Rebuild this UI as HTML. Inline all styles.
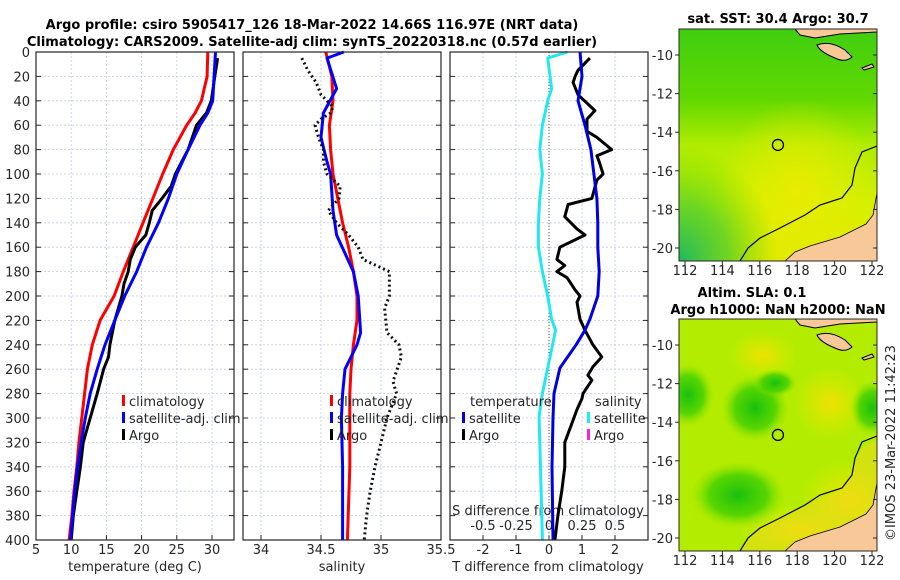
<!DOCTYPE html>
<html><head><meta charset="utf-8">
<style>
html,body{margin:0;padding:0;background:#fff;}
svg{display:block;font-family:"DejaVu Sans","Liberation Sans",sans-serif;}
</style></head>
<body>
<svg id="fig" width="900" height="580" viewBox="0 0 900 580" xmlns="http://www.w3.org/2000/svg">
<defs>
<linearGradient id="g1" x1="0" y1="0" x2="0" y2="1">
<stop offset="0" stop-color="#40ce10"/><stop offset="0.3" stop-color="#60d800"/><stop offset="0.5" stop-color="#b0ec00"/><stop offset="0.75" stop-color="#d4f000"/><stop offset="1" stop-color="#e4e800"/>
</linearGradient>
<radialGradient id="g1bl" cx="0" cy="1" r="0.5"><stop offset="0" stop-color="#20b860"/><stop offset="0.5" stop-color="#40cc30" stop-opacity="0.7"/><stop offset="1" stop-color="#60d800" stop-opacity="0"/></radialGradient>
<radialGradient id="g1ye" cx="0.6" cy="0.7" r="0.4"><stop offset="0" stop-color="#e8ec00"/><stop offset="1" stop-color="#e8ec00" stop-opacity="0"/></radialGradient>
<radialGradient id="grn" cx="0.5" cy="0.5" r="0.5"><stop offset="0" stop-color="#18c010"/><stop offset="0.6" stop-color="#40d000" stop-opacity="0.8"/><stop offset="1" stop-color="#90e400" stop-opacity="0"/></radialGradient>
<radialGradient id="yel" cx="0.5" cy="0.5" r="0.5"><stop offset="0" stop-color="#f0e000"/><stop offset="1" stop-color="#e0ec00" stop-opacity="0"/></radialGradient>
<clipPath id="c1"><rect x="679" y="29" width="198" height="232"/></clipPath>
<clipPath id="c2"><rect x="679" y="319" width="198" height="232"/></clipPath>
</defs>
<g id="layer"></g>
</svg>
<script>
// ---- data (depth in m) ----
const tDepth = [0,20,40,50,60,80,100,120,140,160,180,200,220,240,260,280,300,320,340,360,380,400];
const tClim  = [29.4,29.3,28.5,27.6,26.4,24.5,23,21.6,20.2,18.8,17.4,16.1,14.1,13,12.3,11.9,11.5,11.1,10.8,10.4,10.1,9.7];
const tSat   = [30.5,30.3,30.1,29.4,28.3,26.6,25,23.8,22.4,20.7,19.3,17.6,16.2,14.8,13.7,12.7,12,11.4,10.9,10.5,10.2,9.9];
const argoDepth = [5,20,40,50,60,80,90,100,110,120,130,140,150,160,170,180,190,200,220,240,250,260,280,300,320,340,360,380,400];
const tArgo = [30.8,30.4,29.9,29.2,27.8,26.6,25.7,24.8,24.2,22.9,21.5,21.1,20.6,19.1,18.4,18.1,17.5,17.2,16.2,15.5,15.3,14.6,13.7,12.7,11.7,11.3,10.8,10.3,10];
const sDepth = [0,20,40,60,80,100,120,140,160,180,200,220,240,260,280,300,340,400];
const sClim  = [34.54,34.59,34.6,34.57,34.58,34.6,34.64,34.68,34.73,34.77,34.8,34.8,34.77,34.75,34.74,34.74,34.74,34.72];
const sSatDepth = [0,5,30,50,70,90,100,130,150,180,200,230,240,260,280,300,340,400];
const sSat = [34.69,34.55,34.63,34.52,34.5,34.55,34.58,34.6,34.63,34.77,34.81,34.83,34.8,34.7,34.68,34.67,34.68,34.68];
const sArgoDepth = [5,15,25,35,45,50,55,60,70,80,90,100,110,120,130,140,150,160,170,175,180,200,210,230,240,250,270,280,300,320,340,360,380,400];
const sArgo = [34.34,34.39,34.46,34.5,34.6,34.58,34.5,34.45,34.48,34.52,34.52,34.55,34.66,34.65,34.56,34.63,34.73,34.81,34.85,34.96,35.07,35.07,35.03,35.05,35.15,35.17,35.1,35.13,35.05,35.0,34.95,34.91,34.88,34.86];
const dSDepth = [0,5,30,40,60,80,100,120,140,160,180,200,219,228,259,280,299,359,400];
const dSSat = [0.14,-0.01,0.02,-0.01,-0.05,-0.07,-0.05,-0.07,-0.08,-0.08,-0.05,-0.01,0.02,0.05,-0.01,-0.05,-0.075,-0.06,-0.05];
const dTSatDepth = [0,20,40,60,80,100,120,140,160,180,200,219,228,240,259,280,300,340,400];
const dTSat = [0.94,1.0,0.88,1.09,1.27,1.36,1.45,1.48,1.48,1.52,1.48,1.24,1.09,0.82,0.33,0.15,0.12,0.09,0.12];
const dTArgoDepth = [5,15,20,25,35,42,48,55,65,70,80,85,90,100,105,110,120,125,135,145,150,160,170,175,180,185,195,200,205,219,228,240,250,258,265,269,280,284,293,315,320,340,359,380,400];
const dTArgo = [1.24,0.88,0.79,0.73,0.88,1.15,1.39,1.15,1.15,1.45,1.9,1.45,1.52,1.64,1.45,1.4,1.3,0.58,0.48,0.85,1.09,0.33,0.24,0.48,0.24,0.55,0.79,0.94,0.85,0.94,1.09,1.33,1.6,1.33,1.18,1.3,1.03,1.0,0.85,0.55,0.48,0.48,0.39,0.27,0.18];
const depthTicks = [0,20,40,60,80,100,120,140,160,180,200,220,240,260,280,300,320,340,360,380,400];
const tTicks = [5,10,15,20,25,30];
const sTicks = [34,34.5,35,35.5];
const dTTicks = [-2,-1,0,1,2];
const dSTicks = [-0.5,-0.25,0,0.25,0.5];
const dSTickLabels = ['-0.5','-0.25','0','0.25','0.5'];
const latTicks = [-10,-12,-14,-16,-18,-20];
const lonTicks = [112,114,116,118,120,122];

// ---- scales ----
const Y0=52, Y1=540;
const yD = d => Y0 + d*(Y1-Y0)/400;
const xT = v => 36 + (v-5)*7.04;
const xS = v => 261 + (v-34)*120;
const xDT = v => 549 + v*33;
const xDS = v => 549 + v*132;
const mapX = lon => 685 + (lon-112)*18.7;
const mapY = (lat,off) => off + 55 + (-10-lat)*19.3;

const NS="http://www.w3.org/2000/svg";
const L=document.getElementById('layer');
function el(tag, attrs, parent){const e=document.createElementNS(NS,tag);for(const k in attrs)e.setAttribute(k,attrs[k]);(parent||L).appendChild(e);return e;}
function txt(x,y,s,size,anchor,weight,fill){const t=el('text',{x:x,y:y,'font-size':size,'text-anchor':anchor||'start','font-weight':weight||'normal',fill:fill||'#262626'});t.textContent=s;return t;}

// ---- panels ----
const panels=[[36,234],[243,441],[450,648]];
panels.forEach((p,i)=>{
  const g=el('g',{});
  
  
  depthTicks.forEach(d=>{
    const l=el('line',{x1:p[0],x2:p[1],y1:yD(d),y2:yD(d),stroke:'#c4c8ea','stroke-width':0.8,'stroke-dasharray':'2,2'},g);
    
    
    el('line',{x1:p[0],x2:p[0]+5,y1:yD(d),y2:yD(d),stroke:'#262626'},g);
    el('line',{x1:p[1],x2:p[1]-5,y1:yD(d),y2:yD(d),stroke:'#262626'},g);
  });
});
function vgrid(vals,fx){vals.forEach(v=>{const l=el('line',{x1:fx(v),x2:fx(v),y1:Y0,y2:Y1,stroke:'#c4c8ea','stroke-width':0.8,'stroke-dasharray':'2,2'});
  
  
  el('line',{x1:fx(v),x2:fx(v),y1:Y1,y2:Y1-5,stroke:'#262626'});});}
vgrid(tTicks,xT); vgrid(sTicks.filter(v=>v<35.5),xS); vgrid(dTTicks,xDT);
el('line',{x1:xDT(0),x2:xDT(0),y1:yD(0),y2:Y1,stroke:'#555','stroke-width':1,'stroke-dasharray':'1,2'});

depthTicks.forEach(d=>{const t=txt(30,yD(d)+5,String(d),13,'end');
  
  });
tTicks.forEach(v=>{const t=txt(xT(v),554,String(v),13,'middle');
  
  });
sTicks.forEach(v=>{const t=txt(xS(v),554,String(v),13,'middle');
  
  });
dTTicks.forEach(v=>{const t=txt(xDT(v),554,String(v),13,'middle');
  
  });
dSTicks.forEach((v,i)=>{const t=txt(xDS(v),530,dSTickLabels[i],13,'middle');
  
  });
let t;
t=txt(135,571,'temperature (deg C)',13,'middle');  
t=txt(342,571,'salinity',13,'middle');  
t=txt(548,571,'T difference from climatology',13,'middle');  
t=txt(548,515,'S difference from climatology',13,'middle');  

function series(depths, vals, fx, color, w, dash, name){
  const pts=depths.map((d,i)=>fx(vals[i]).toFixed(1)+','+yD(d).toFixed(1)).join(' ');
  const a={points:pts,fill:'none',stroke:color,'stroke-width':w,'stroke-linejoin':'round'};
  if(dash)a['stroke-dasharray']=dash;
  const p=el('polyline',a);
  
  
}
series(tDepth,tClim,xT,'#ff0000',3,null,'temperature-climatology-line');
series(argoDepth,tArgo,xT,'#000',3,null,'temperature-argo-line');
series(tDepth,tSat,xT,'#0000ff',3,null,'temperature-satellite-line');
series(sDepth,sClim,xS,'#ff0000',3,null,'salinity-climatology-line');
series(sSatDepth,sSat,xS,'#0000ff',3,null,'salinity-satellite-line');
series(sArgoDepth,sArgo,xS,'#111',3,'2,3','salinity-argo-line');
series(dSDepth,dSSat,xDS,'#22e8f0',3,null,'s-diff-satellite-line');
series(dTArgoDepth,dTArgo,xDT,'#000',3,null,'t-diff-argo-line');
series(dTSatDepth,dTSat,xDT,'#0000e0',3,null,'t-diff-satellite-line');

panels.forEach(p=>{el('rect',{x:p[0],y:Y0,width:p[1]-p[0],height:Y1-Y0,fill:'none',stroke:'#262626','stroke-width':1.2});});

function legEntry(x,y,color,label,name){
  const g=el('g',{});
  
  
  el('rect',{x:x,y:y-11,width:3,height:11,fill:color},g);
  const tt=el('text',{x:x+7,y:y,'font-size':13,fill:'#262626'},g); tt.textContent=label;
}
legEntry(122,406,'#ff0000','climatology','legend-entry-climatology');
legEntry(122,423,'#0000ff','satellite-adj. clim','legend-entry-satellite-adj');
legEntry(122,440,'#000','Argo','legend-entry-argo');
legEntry(330,406,'#ff0000','climatology','legend-entry-climatology-salinity');
legEntry(330,423,'#0000ff','satellite-adj. clim','legend-entry-satellite-adj-salinity');
legEntry(330,440,'#000','Argo','legend-entry-argo-salinity');
t=txt(470,406,'temperature',13);  
t=txt(595,406,'salinity',13);  
legEntry(462,423,'#0000e0','satellite','legend-entry-t-satellite');
legEntry(462,440,'#000','Argo','legend-entry-t-argo');
legEntry(587,423,'#22e8f0','satellite','legend-entry-s-satellite');
legEntry(587,440,'#ff22cc','Argo','legend-entry-s-argo');

t=txt(312,29,'Argo profile: csiro 5905417_126 18-Mar-2022 14.66S 116.97E (NRT data)',13,'middle','bold','#000');  
t=txt(312,46,'Climatology: CARS2009. Satellite-adj clim: synTS_20220318.nc (0.57d earlier)',13,'middle','bold','#000');  

function map(off, kind){
  const g=el('g',{'clip-path':'url(#c'+kind+')'});
  
  
  const o=off;
  if(kind===1){
    el('rect',{x:679,y:29+o,width:198,height:232,fill:'url(#g1)'},g);
    el('rect',{x:679,y:29+o,width:198,height:232,fill:'url(#g1ye)'},g);
    el('rect',{x:679,y:29+o,width:198,height:232,fill:'url(#g1bl)'},g);
  } else {
    el('rect',{x:679,y:29+o,width:198,height:232,fill:'#b4ec00'},g);
    [[763,65,34,24,'yel'],[830,113,36,36,'yel'],[850,210,50,40,'yel'],[800,240,60,25,'yel'],
     [755,118,34,34,'grn'],[688,105,26,32,'grn'],[872,118,22,28,'grn'],[738,205,48,34,'grn'],[775,93,22,14,'grn']].forEach(b=>{
      el('ellipse',{cx:b[0],cy:b[1]+o,rx:b[2],ry:b[3],fill:'url(#'+b[4]+')'},g);
    });
    el('path',{d:`M877 150 L862 158 L850 185 L842 200 L805 215 L760 238 L738 261 L877 261 Z`,transform:`translate(0 ${o})`,fill:'#f0d820',opacity:0.5},g);
  }
  el('path',{d:`M877 ${193+o} L873 ${215+o} L866 ${224+o} L840 ${237+o} L810 ${246+o} L795 ${252+o} L785 ${261+o} L877 ${261+o} Z`,fill:'#f8c898'},g);
  el('path',{d:`M${795} ${29+o} L877 ${29+o} L877 ${32+o} L840 ${34+o} L815 ${38+o} L800 ${35+o} Z`,fill:'#f8c898',stroke:'#000','stroke-width':1},g);
  el('path',{d:`M817 ${45+o} Q830 ${40+o} 845 ${50+o} L852 ${57+o} Q845 ${63+o} 835 ${58+o} Q820 ${52+o} 817 ${45+o} Z`,fill:'#f8c898',stroke:'#000','stroke-width':1},g);
  el('path',{d:`M862 ${68+o} L872 ${64+o} L874 ${67+o} L864 ${70+o} Z`,fill:'#f8c898',stroke:'#000','stroke-width':1},g);
  el('path',{d:`M877 ${146+o} L862 ${152+o} L855 ${168+o} L852 ${185+o} L842 ${198+o} L820 ${205+o} L805 ${215+o} L780 ${228+o} L760 ${238+o} L748 ${248+o} L740 ${261+o}`,fill:'none',stroke:'#000','stroke-width':1.2},g);
  el('path',{d:`M877 ${193+o} L873 ${215+o} L866 ${224+o} L840 ${237+o} L810 ${246+o} L795 ${252+o} L785 ${261+o}`,fill:'none',stroke:'#000','stroke-width':0.8},g);
  const c=el('circle',{cx:mapX(116.97),cy:mapY(-14.66,o),r:5.5,fill:'none',stroke:'#000','stroke-width':1.3});
  
  
  el('rect',{x:679,y:29+o,width:198,height:232,fill:'none',stroke:'#262626','stroke-width':1});
  latTicks.forEach(v=>{
    const tl=txt(673,mapY(v,o)+5,String(v),13,'end');  
    el('line',{x1:877,x2:873,y1:mapY(v,o),y2:mapY(v,o),stroke:'#262626'});
    el('line',{x1:679,x2:675,y1:mapY(v,o),y2:mapY(v,o),stroke:'#262626'});
  });
  lonTicks.forEach(v=>{
    const tl=txt(mapX(v),275+o,String(v),13,'middle');  
    el('line',{x1:mapX(v),x2:mapX(v),y1:261+o,y2:265+o,stroke:'#262626'});
  });
}
map(0,1); map(290,2);
t=txt(778,23,'sat. SST: 30.4  Argo: 30.7',13,'middle','bold','#000');  
t=txt(752,297,'Altim. SLA: 0.1',13,'middle','bold','#000');  
t=txt(778,314,'Argo h1000: NaN h2000: NaN',13,'middle','bold','#000');  
t=el('text',{x:0,y:0,'font-size':13,'text-anchor':'middle',fill:'#262626',transform:'translate(895,443) rotate(-90)'}); t.textContent='©IMOS 23-Mar-2022 11:42:23';


</script>
</body></html>
